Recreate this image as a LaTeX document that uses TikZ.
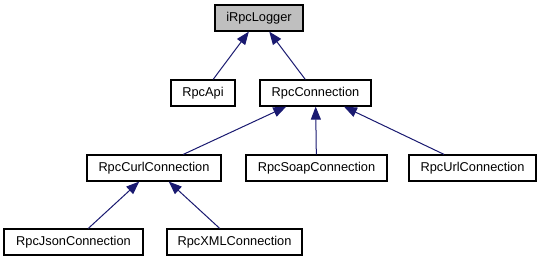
\documentclass[tikz,border=0pt]{standalone}
\usepackage{fontspec}
\setmainfont{Liberation Sans}
\usepackage{xcolor}
\usetikzlibrary{arrows.meta, positioning}
\definecolor{edgeblue}{HTML}{191970}
\definecolor{rootgray}{HTML}{BFBFBF}
\tikzset{
  classbox/.style={draw=black, line width=1.2pt, fill=white, inner xsep=0pt,
    minimum height=26pt, font=\fontsize{12.8}{14}\selectfont},
  inherit/.style={draw=edgeblue, line width=1pt,
    -{Triangle[length=13pt, width=10pt, fill=edgeblue]}}
}

\begin{document}
\begin{tikzpicture}[x=1pt, y=-1pt]
        \useasboundingbox (0,0) rectangle (541,261);
        % class nodes, one row per level
        \node[classbox, fill=rootgray, minimum width=88pt] (logger) at (259,18) {iRpcLogger};
        \node[classbox, minimum width=64pt] (api) at (203,93) {RpcApi};
        \node[classbox, minimum width=111pt] (conn) at (315.5,93) {RpcConnection};
        \node[classbox, minimum width=134pt] (curl) at (154,168) {RpcCurlConnection};
        \node[classbox, minimum width=141pt] (soap) at (316.5,168) {RpcSoapConnection};
        \node[classbox, minimum width=127pt] (url) at (472.5,168) {RpcUrlConnection};
        \node[classbox, minimum width=139pt] (json) at (73.5,242) {RpcJsonConnection};
        \node[classbox, minimum width=135pt] (xml) at (234.5,242) {RpcXMLConnection};
        % inheritance arrows point to the base class
        \draw[inherit] (api) -- (logger);
        \draw[inherit] (conn) -- (logger);
        \draw[inherit] (curl) -- (conn);
        \draw[inherit] (soap) -- (conn);
        \draw[inherit] (url) -- (conn);
        \draw[inherit] (json) -- (curl);
        \draw[inherit] (xml) -- (curl);
      \end{tikzpicture}
\end{document}
